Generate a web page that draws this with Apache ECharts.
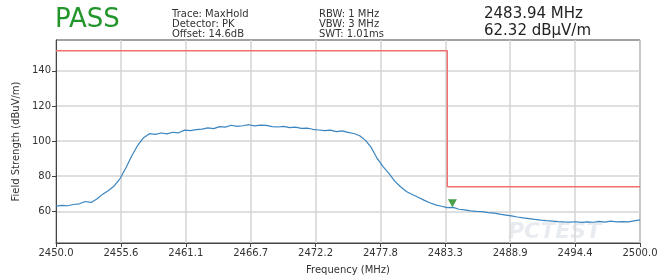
<!DOCTYPE html>
<html>
<head>
<meta charset="utf-8">
<script src="https://cdn.jsdelivr.net/npm/echarts@6/dist/echarts.min.js"></script>
<style>
  html, body { margin: 0; padding: 0; background: #fff; }
  #chart { width: 666px; height: 280px; }
</style>
</head>
<body>
<div id="chart"></div>
<script>
// trace sampled every 0.5 MHz from 2450 to 2500
const freqStart = 2450;
const freqStep = 0.5;
const traceLevels = [
  63.0, 63.4, 63.2, 63.9, 64.3, 65.6, 65.1, 67.0, 69.8, 71.9,
  74.6, 78.8, 85.0, 91.8, 97.6, 101.9, 104.2, 103.8, 104.6, 104.1,
  105.0, 104.7, 106.2, 105.9, 106.5, 106.8, 107.5, 107.1, 108.2, 107.9,
  109.0, 108.4, 108.7, 109.3, 108.6, 109.1, 108.9, 108.2, 108.0, 108.4,
  107.6, 107.9, 107.2, 107.4, 106.7, 106.3, 105.9, 106.2, 105.4, 105.8,
  104.9, 104.3, 103.0, 100.4, 96.2, 90.1, 85.4, 81.6, 77.2, 74.0,
  71.3, 69.6, 68.0, 66.4, 64.9, 63.7, 62.9, 62.1, 62.3, 61.2,
  60.8, 60.3, 60.0, 59.8, 59.3, 59.0, 58.4, 57.9, 57.4, 56.8,
  56.3, 55.9, 55.4, 55.0, 54.7, 54.5, 54.2, 54.0, 53.9, 54.1,
  53.7, 54.0, 53.8, 54.3, 53.9, 54.4, 54.0, 54.2, 54.0, 54.6,
  55.2
];
// limit line (step at band edge)
const limitFreqs = [2450, 2483.5, 2483.5, 2500];
const limitLevels = [151.4, 151.4, 74, 74];
// marker
const markerFreq = 2483.94;
const markerLevel = 62.32;
// tick labels
const xTicks = [2450.0, 2455.56, 2461.11, 2466.67, 2472.22, 2477.78, 2483.33, 2488.89, 2494.44, 2500.0];
const yTicks = [60, 80, 100, 120, 140];
const infoLeft = ['Trace: MaxHold', 'Detector: PK', 'Offset: 14.6dB'];
const infoMid = ['RBW: 1 MHz', 'VBW: 3 MHz', 'SWT: 1.01ms'];

const traceData = traceLevels.map((v, i) => [freqStart + i * freqStep, v]);
const limitData = limitFreqs.map((f, i) => [f, limitLevels[i]]);

const FONT = 'DejaVu Sans';
let chart = echarts.init(document.getElementById('chart'));
chart.setOption({
  animation: false,
  textStyle: { fontFamily: FONT },
  grid: {
    left: 56, right: 26, top: 40, bottom: 30,
    show: true, borderColor: '#444', borderWidth: 1
  },
  xAxis: {
    type: 'value',
    min: 2450, max: 2500,
    name: 'Frequency (MHz)',
    nameLocation: 'middle',
    nameGap: 22,
    nameTextStyle: { fontSize: 10, color: '#333', fontFamily: FONT },
    axisLine: { show: true, lineStyle: { color: '#444' } },
    axisTick: { show: true, length: 4, customValues: xTicks, lineStyle: { color: '#444' } },
    axisLabel: {
      customValues: xTicks, fontSize: 10, color: '#333', margin: 5,
      formatter: v => v.toFixed(1)
    },
    splitLine: { show: true, lineStyle: { color: '#d4d4d4', width: 1.5 } }
  },
  yAxis: {
    type: 'value',
    min: 42, max: 157.5,
    name: 'Field Strength (dBuV/m)',
    nameLocation: 'middle',
    nameGap: 32,
    nameTextStyle: { fontSize: 10, color: '#333', fontFamily: FONT },
    axisLine: { show: true, lineStyle: { color: '#444' } },
    axisTick: { show: true, length: 4, customValues: yTicks, lineStyle: { color: '#444' } },
    axisLabel: { customValues: yTicks, fontSize: 10, color: '#333', margin: 5 },
    splitLine: { show: true, lineStyle: { color: '#d4d4d4', width: 1.5 } }
  },
  graphic: [
    { type: 'text', left: 55, top: 7, style: { text: 'PASS', fontSize: 26, fill: '#22962a', fontFamily: FONT } },
    { type: 'text', left: 172, top: 9, style: { text: infoLeft.join('\n'), fontSize: 10, lineHeight: 10, fill: '#333', fontFamily: FONT } },
    { type: 'text', left: 319, top: 9, style: { text: infoMid.join('\n'), fontSize: 10, lineHeight: 10, fill: '#333', fontFamily: FONT } },
    { type: 'text', left: 484, top: 6, style: { text: '2483.94 MHz\n62.32 dBµV/m', fontSize: 15, lineHeight: 17, fill: '#222', fontFamily: FONT } },
    // faint watermark
    { type: 'text', left: 508, top: 221, z: 0, style: { text: 'PCTEST', fontSize: 22, fontStyle: 'italic', fontWeight: 'bold', fill: 'rgba(190,200,215,0.35)', fontFamily: FONT } }
  ],
  series: [
    {
      type: 'line',
      data: traceData,
      showSymbol: false,
      lineStyle: { color: '#3a85c0', width: 1.2 },
      z: 3
    },
    {
      type: 'line',
      data: limitData,
      showSymbol: false,
      lineStyle: { color: '#f07070', width: 1.5 },
      z: 2
    },
    {
      type: 'scatter',
      data: [[markerFreq, markerLevel]],
      symbol: 'triangle',
      symbolRotate: 180,
      symbolSize: [9, 8],
      symbolOffset: [0, -4],
      itemStyle: { color: '#1a8a1a' },
      z: 4
    }
  ]
});
</script>
</body>
</html>
